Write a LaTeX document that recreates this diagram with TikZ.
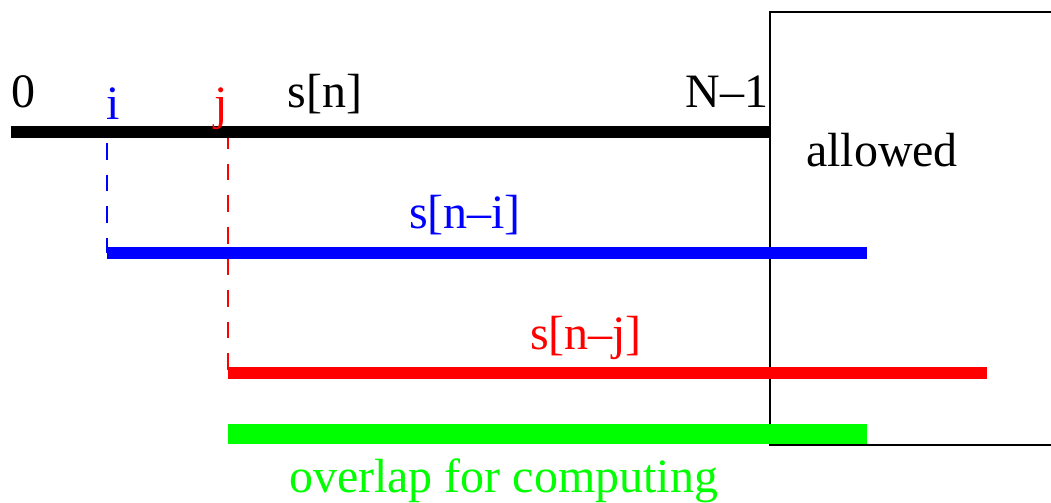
\documentclass[tikz,border=0pt]{standalone}
\usepackage{fontspec}
\setmainfont{Liberation Serif}
\tikzset{
  label/.style={anchor=base, inner sep=0pt, font=\fontsize{27.3}{32}\selectfont},
  bar/.style={line width=0.24cm},
  guide/.style={line width=0.75pt, dash pattern=on 9.5pt off 8.5pt}
}
\begin{document}
\begin{tikzpicture}[x=0.02cm, y=-0.02cm]

  \useasboundingbox (0,0) rectangle (1051,503);

  % Zone autorisee
  \draw[line width=0.75pt] (1051,12) -| (770,445) -- (1051,445);
  \node[label] (allowed) at (882,167) {allowed};

  % Points
  \coordinate (s0) at (11,132);
  \coordinate (sN) at (770,132);
  \coordinate (i0) at (107,143);
  \coordinate (i1) at (107,253);
  \coordinate (iN) at (867,253);
  \coordinate (j0) at (228,132);
  \coordinate (j1) at (228,373);
  \coordinate (jN) at (987,373);
  \coordinate (o0) at (228,434);
  \coordinate (oN) at (867,434);

  % Pointilles
  \draw[guide, blue] (i0) -- (i1);
  \draw[guide, red] (j0) -- (j1);

  % Signaux
  \draw[bar, black] (s0) -- (sN);
  \draw[bar, blue] (i1) -- (iN);
  \draw[bar, red] (j1) -- (jN);
  \draw[line width=0.4cm, green] (o0) -- (oN);

  % Etiquettes
  \node[label] (zero) at (23,108) {0};
  \node[label, blue] (iname) at (113,120) {i};
  \node[label, red] (jname) at (221,120) {j};
  \node[label] (sn) at (325,108) {s[n]};
  \node[label] (last) at (727,108) {N--1};
  \node[label, blue] (sni) at (465,229) {s[n--i]};
  \node[label, red] (snj) at (586,349) {s[n--j]};
  \node[label, green] (overlap) at (503.5,492) {overlap for computing};

\end{tikzpicture}
\end{document}
